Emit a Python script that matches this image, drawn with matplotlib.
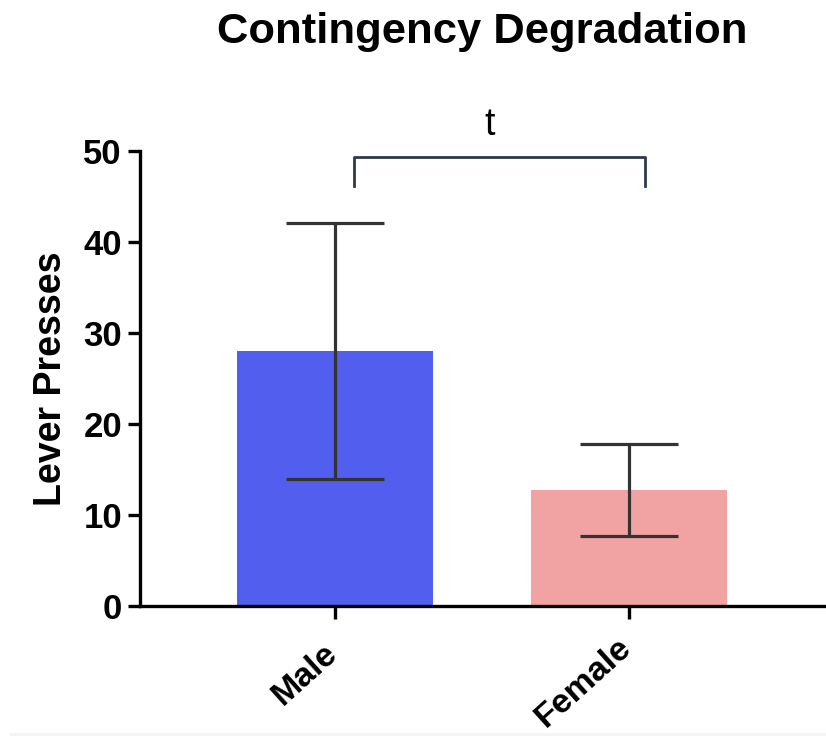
import numpy as np
import matplotlib
matplotlib.use("Agg")
import matplotlib.pyplot as plt
from matplotlib.patches import Rectangle

plt.rcParams["font.family"] = ["Liberation Sans", "DejaVu Sans"]

groups = ["Male", "Female"]
means = [28.0, 12.75]
sems = [14.1, 5.05]
colors = ["#525FEE", "#F1A3A3"]
sig_label = "t"

fig = plt.figure(figsize=(8.26, 7.36), dpi=100)
ax = fig.add_axes([140 / 826, 1 - 606 / 736, 686 / 826, 455.3 / 736])

x = np.arange(len(groups))
ax.bar(x, means, width=0.665, color=colors, zorder=1)
ax.errorbar(x, means, yerr=sems, fmt="none", ecolor="#333333",
            elinewidth=2.3, capsize=35, capthick=2.3, zorder=2)

ax.set_xlim(-0.663, 1.67)
ax.set_ylim(0, 50)
ax.set_yticks(range(0, 51, 10))
ax.set_xticks(x)
ax.set_xticklabels([])
# slanted group names, placed just below and left of each tick
label_drop = [-23.0, -18.5]
for xi, name, dy in zip(x, groups, label_drop):
    ax.annotate(name, xy=(xi, 0), xycoords=("data", "axes fraction"),
                xytext=(-8.5, dy), textcoords="offset points",
                rotation=42, ha="right", va="top", rotation_mode="anchor",
                fontsize=24.5, fontweight="bold", annotation_clip=False)
for lab in ax.get_yticklabels():
    lab.set_fontsize(25)
    lab.set_fontweight("bold")

for side in ["top", "right"]:
    ax.spines[side].set_visible(False)
for side in ["left", "bottom"]:
    ax.spines[side].set_linewidth(2.4)
ax.tick_params(axis="both", width=2.4, length=9, pad=4)

ax.set_ylabel("Lever Presses", fontsize=27, fontweight="bold", labelpad=10)

# significance bracket between the two groups
y_top, y_leg = 49.3, 46.1
ax.plot([0.066, 0.066, 1.054, 1.054], [y_leg, y_top, y_top, y_leg],
        color="#2B3A4A", lw=2.0, clip_on=False, solid_joinstyle="round")
ax.text(0.525, y_top + 1.6, sig_label, ha="center", va="bottom",
        fontsize=27, clip_on=False)

fig.text(482 / 826, 1 - 32 / 736, "Contingency Degradation", ha="center",
         va="center", fontsize=31.3, fontweight="bold")

# thin grey strip along the bottom edge
fig.patches.append(Rectangle((10 / 826, 0), 1, 3 / 736, transform=fig.transFigure,
                             facecolor="#F4F4F4", edgecolor="none"))

fig.savefig("out.png", dpi=100)
